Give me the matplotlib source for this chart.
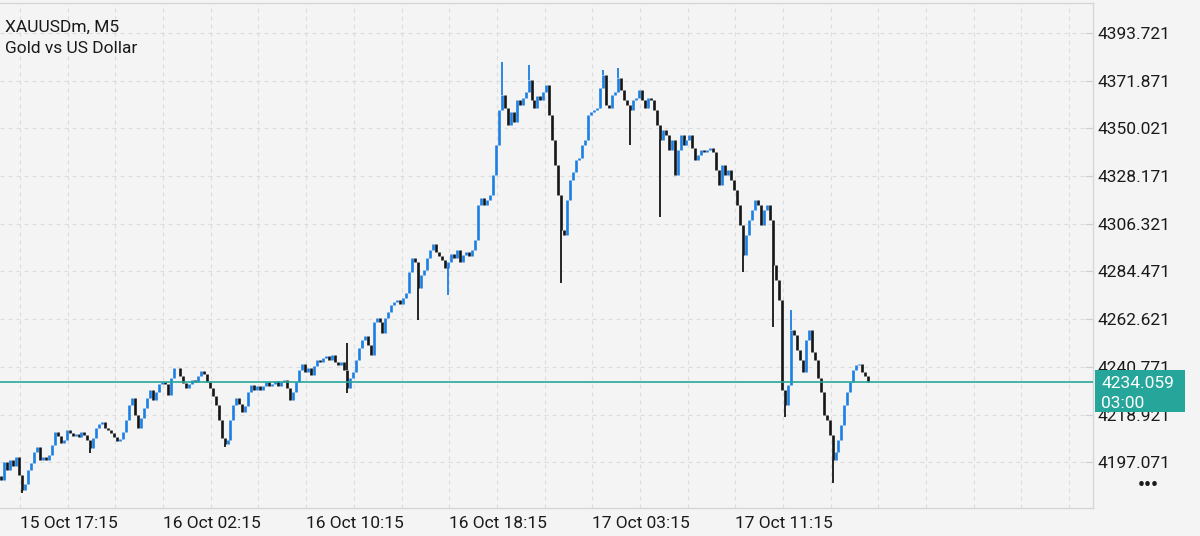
import matplotlib
matplotlib.use("Agg")
import matplotlib.pyplot as plt
from matplotlib.patches import Rectangle

plt.rcParams['font.family'] = ['Roboto', 'DejaVu Sans']

# chart header
symbol = "XAUUSDm, M5"
description = "Gold vs US Dollar"

first_open = 4191.0
closes = [
    4189.0, 4197.2, 4193.5, 4198.1, 4195.4, 4199.5, 4191.2, 4184.4, 4187.1, 4193.5,
    4196.7, 4201.8, 4204.1, 4198.1, 4199.5, 4198.1, 4200.4, 4205.0, 4210.9, 4209.1,
    4205.9, 4207.3, 4211.9, 4210.5, 4209.1, 4210.0, 4208.7, 4210.9, 4209.6, 4207.3,
    4203.6, 4208.2, 4212.8, 4214.6, 4215.5, 4212.8, 4211.9, 4210.5, 4208.7, 4206.8,
    4207.7, 4210.9, 4216.4, 4223.3, 4226.5, 4218.7, 4212.8, 4217.4, 4221.9, 4226.5,
    4230.2, 4225.6, 4229.3, 4232.9, 4233.8, 4232.9, 4227.9, 4235.7, 4240.3, 4240.3,
    4236.6, 4233.4, 4231.1, 4232.9, 4234.8, 4233.8, 4236.6, 4238.9, 4237.5, 4233.8,
    4231.1, 4227.4, 4223.3, 4216.4, 4208.2, 4205.4, 4207.3, 4216.4, 4223.3, 4226.5,
    4223.8, 4220.1, 4222.9, 4229.3, 4232.5, 4230.2, 4232.0, 4230.2, 4232.0, 4233.8,
    4232.0, 4232.9, 4234.3, 4232.0, 4233.8, 4234.8, 4231.1, 4225.6, 4229.3, 4233.8,
    4239.3, 4242.1, 4238.4, 4240.3, 4237.1, 4241.2, 4243.9, 4243.0, 4244.8, 4245.8,
    4243.9, 4246.2, 4243.0, 4241.6, 4243.0, 4239.3, 4231.1, 4235.7, 4238.4, 4243.9,
    4249.4, 4253.1, 4254.9, 4250.8, 4246.2, 4261.3, 4263.2, 4261.3, 4256.3, 4263.2,
    4265.9, 4269.1, 4270.5, 4271.4, 4269.6, 4272.3, 4274.6, 4284.2, 4290.7, 4288.8,
    4276.9, 4282.9, 4285.2, 4290.7, 4294.3, 4297.1, 4293.4, 4291.6, 4289.7, 4286.1,
    4288.8, 4292.5, 4290.7, 4294.3, 4288.8, 4292.0, 4293.4, 4291.6, 4294.3, 4298.9,
    4314.9, 4318.1, 4314.9, 4317.2, 4319.5, 4328.7, 4342.4, 4358.5, 4365.3, 4359.4,
    4351.6, 4357.5, 4353.0, 4363.0, 4360.7, 4364.0, 4366.7, 4372.2, 4363.0, 4359.4,
    4364.9, 4363.0, 4366.7, 4369.9, 4356.2, 4344.7, 4333.3, 4319.5, 4303.5, 4301.2,
    4317.2, 4326.4, 4330.1, 4335.5, 4336.5, 4342.4, 4344.7, 4356.2, 4357.5, 4358.5,
    4359.4, 4368.5, 4374.5, 4360.7, 4359.4, 4365.3, 4366.7, 4373.1, 4367.6, 4363.0,
    4360.7, 4358.5, 4363.0, 4364.0, 4367.6, 4363.0, 4359.4, 4364.0, 4363.0, 4358.5,
    4351.6, 4344.7, 4349.3, 4347.0, 4340.1, 4344.7, 4328.7, 4340.1, 4347.0, 4342.4,
    4344.7, 4347.0, 4341.0, 4335.5, 4337.8, 4340.1, 4339.2, 4340.1, 4341.0, 4339.2,
    4331.0, 4324.1, 4333.3, 4328.7, 4331.0, 4326.4, 4321.8, 4314.9, 4305.8, 4292.0,
    4301.2, 4308.1, 4312.6, 4317.2, 4314.9, 4305.8, 4312.6, 4314.9, 4308.1, 4287.4,
    4280.6, 4271.4, 4230.2, 4223.3, 4232.5, 4257.7, 4255.4, 4248.5, 4243.9, 4238.4,
    4253.1, 4257.7, 4247.6, 4243.9, 4235.7, 4229.3, 4218.7, 4216.4, 4209.6, 4198.1,
    4201.8, 4207.3, 4214.2, 4223.3, 4229.3, 4233.8, 4239.3, 4241.6, 4242.1, 4238.4,
    4236.6, 4234.06,
]

# long shadows that stick out of the body path
wick_bars = [7, 30, 75, 116, 116, 140, 150, 168, 177, 188, 202, 207, 211, 221, 249, 259, 263, 265, 279]
wick_prices = [4183.0, 4201.3, 4204.1, 4228.8, 4251.7, 4262.2, 4273.7, 4380.4, 4379.1, 4279.2,
               4376.8, 4377.7, 4342.4, 4309.4, 4284.2, 4259.0, 4217.8, 4266.8, 4187.6]

price_ticks = [4393.721, 4371.871, 4350.021, 4328.171, 4306.321,
               4284.471, 4262.621, 4240.771, 4218.921, 4197.071]
time_labels = ["15 Oct 17:15", "16 Oct 02:15", "16 Oct 10:15",
               "16 Oct 18:15", "17 Oct 03:15", "17 Oct 11:15"]
last_price = 4234.059
countdown = "03:00"

BG = '#f4f4f4'
UP = '#1b7fe3'
DOWN = '#151515'
TEAL = '#26a69a'
GRID = '#dcdcdc'

fig = plt.figure(figsize=(12, 5.36), dpi=100, facecolor=BG)
ax = fig.add_axes([0, 28 / 536, 1093 / 1200, 505 / 536])
ax.set_facecolor(BG)

# bars: open is the previous close
opens = [first_open] + closes[:-1]
xs = list(range(len(closes)))
colors = [UP if c >= o else DOWN for o, c in zip(opens, closes)]
ax.vlines(xs, [min(o, c) for o, c in zip(opens, closes)],
          [max(o, c) for o, c in zip(opens, closes)],
          colors=colors, linewidth=1.9, zorder=3)
for b, p in zip(wick_bars, wick_prices):
    o, c = opens[b], closes[b]
    lo, hi = (p, min(o, c)) if p < min(o, c) else (max(o, c), p)
    ax.vlines(b, lo, hi, colors=colors[b], linewidth=1.3, zorder=3)

ax.axhline(last_price, color=TEAL, linewidth=1.2, zorder=4)

ax.set_xlim(-0.34, 366.4)
ax.set_ylim(4176.13, 4407.47)

# time grid every 16 sampled bars (3 hours), label every third line
grid_x = [6.38 + 16 * k for k in range(23)]
ax.set_xticks(grid_x)
ax.set_xticklabels([time_labels[k // 3] if k % 3 == 0 and k // 3 < len(time_labels) else ""
                    for k in range(23)], ha='left', fontsize=12.5, color='#1a1a1a')
ax.tick_params(axis='x', length=0, pad=6)

ax.yaxis.tick_right()
ax.set_yticks(price_ticks)
ax.set_yticklabels([f"{p:.3f}" for p in price_ticks], fontsize=12.5, color='#1a1a1a')
ax.tick_params(axis='y', direction='in', length=6, color='#cfcfcf', pad=3)

ax.grid(True, color=GRID, linestyle=(0, (3.6, 3.6)), linewidth=0.8, zorder=0)
ax.set_axisbelow(True)

ax.spines['left'].set_visible(False)
for s in ['right', 'bottom', 'top']:
    ax.spines[s].set_color('#d6d6d6')
    ax.spines[s].set_linewidth(1.0)

fig.text(5 / 1200, 1 - 32 / 536, symbol, fontsize=12.5, color='#1a1a1a', va='baseline')
fig.text(5 / 1200, 1 - 53 / 536, description, fontsize=12.5, color='#1a1a1a', va='baseline')

# last price tag, drawn over the axis labels like the terminal does
fig.patches.append(Rectangle((1095 / 1200, 1 - 412 / 536), 90 / 1200, 42 / 536,
                             transform=fig.transFigure, facecolor=TEAL,
                             edgecolor='none', zorder=5))
fig.text(1101 / 1200, 1 - 388 / 536, f"{last_price:.3f}", fontsize=12.5,
         color='white', va='baseline', zorder=6)
fig.text(1101 / 1200, 1 - 408 / 536, countdown, fontsize=12.5,
         color='white', va='baseline', zorder=6)

fig.text(1148 / 1200, 1 - 486 / 536, "•••", fontsize=14, fontweight='bold',
         color='#1a1a1a', ha='center', va='center')

fig.savefig("out.png", dpi=100, facecolor=BG)
